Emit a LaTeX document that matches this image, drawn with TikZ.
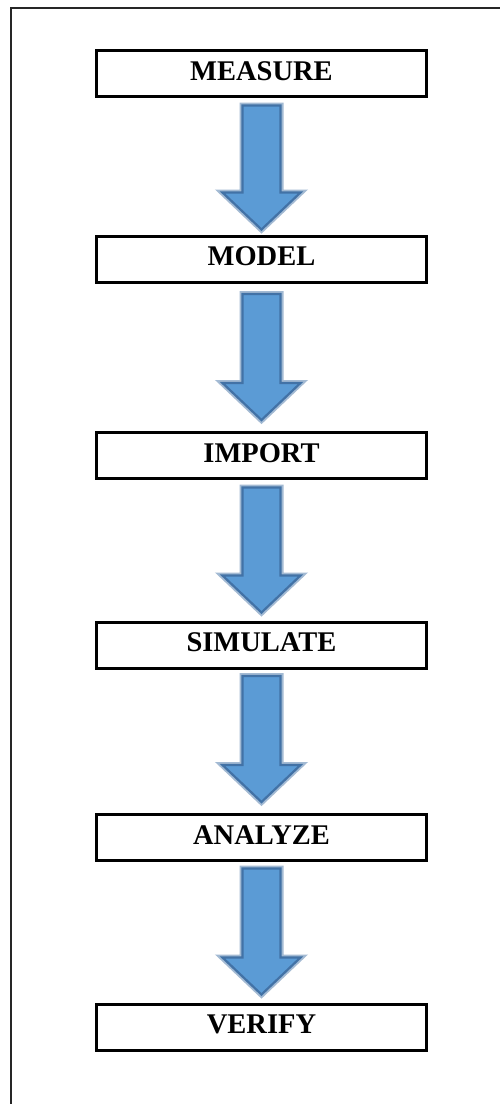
\documentclass[tikz,border=0pt]{standalone}
\usepackage{fontspec}
\setmainfont{Liberation Serif}
\usetikzlibrary{calc}
\definecolor{arrfill}{HTML}{5B9BD5}
\definecolor{arrline}{HTML}{4272A6}
\definecolor{arrhalo}{HTML}{A3BAD3}
\tikzset{
  stepbox/.style={draw=black, line width=3pt, fill=white, minimum width=330pt,
    minimum height=46pt, inner sep=0pt, text height=19pt, text depth=6pt,
    font=\fontsize{28.5pt}{30pt}\selectfont\bfseries},
  frameline/.style={draw=black!85, line width=2pt},
  arrhalostyle/.style={draw=arrhalo, line width=6pt, line join=miter},
  arrbody/.style={fill=arrfill, draw=arrline, line width=2.2pt, line join=miter}
}
\newcommand\flowarr[4]{%
  \path ($(#1.south)+(0pt,-#3pt)$) coordinate (#1top)
        ($(#2.north)+(0pt,#4pt)$) coordinate (#1tip);
  \foreach \sty in {arrhalostyle,arrbody}{
  \draw[\sty] let \p1=(#1top), \p2=(#1tip) in
    (\x1-19pt,\y1) -- (\x1+19pt,\y1) -- (\x1+19pt,\y2+37pt) -- (\x1+39pt,\y2+37pt)
    -- (\x2,\y2) -- (\x1-39pt,\y2+37pt) -- (\x1-19pt,\y2+37pt) -- cycle;}
}
\begin{document}
\begin{tikzpicture}[x=1pt,y=1pt]
\useasboundingbox (0,0) rectangle (500,-1104);
\fill[white] (0,0) rectangle (500,-1104);
\coordinate (fbl) at (11,-1110);
\coordinate (ftl) at (11,-8);
\coordinate (ftr) at (510,-8);
\draw[frameline] (fbl) -- (ftl) -- (ftr);
\node[stepbox] (measure) at (261.5,-73.5) {MEASURE};
\node[stepbox] (model) at (261.5,-259) {MODEL};
\node[stepbox] (import) at (261.5,-455.5) {IMPORT};
\node[stepbox] (simulate) at (261.5,-645) {SIMULATE};
\node[stepbox] (analyze) at (261.5,-837.5) {ANALYZE};
\node[stepbox] (verify) at (261.5,-1027) {VERIFY};
\flowarr{measure}{model}{7.5}{5}
\flowarr{model}{import}{10.5}{11}
\flowarr{import}{simulate}{7.5}{8}
\flowarr{simulate}{analyze}{6.5}{11}
\flowarr{analyze}{verify}{6.5}{8}
\end{tikzpicture}
\end{document}
